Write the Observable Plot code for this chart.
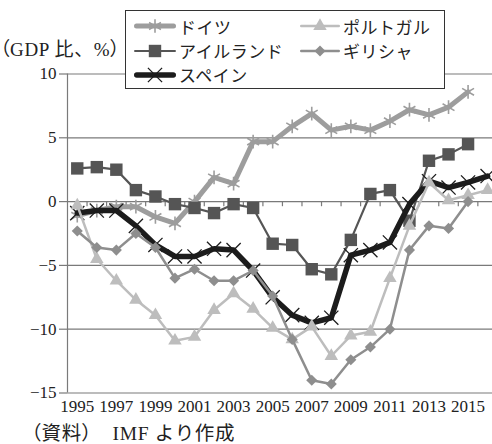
<!DOCTYPE html>
<html>
<head>
<meta charset="utf-8">
<script src="https://cdn.jsdelivr.net/npm/d3@7"></script>
<script src="https://cdn.jsdelivr.net/npm/@observablehq/plot@0.6"></script>
<style>
  body { margin: 0; background: #fff; }
  #wrap { position: relative; width: 492px; height: 444px; overflow: hidden; background: #fff; }
  #wrap svg.plot { position: absolute; left: 0; top: 0; }
  .txt { position: absolute; font-family: "Liberation Serif", "Noto Sans CJK JP", serif; font-size: 19px; color: #222; white-space: pre; line-height: 1; }
  .p { font-feature-settings: "palt"; }
  #legend { position: absolute; left: 125px; top: 10px; width: 318px; height: 77px; border: 1.3px solid #333; background: #fff; }
  .item { position: absolute; height: 20px; display: flex; align-items: center; }
  .item span { font-family: "Noto Sans CJK JP", sans-serif; font-size: 17px; letter-spacing: 0.5px; color: #222; margin-left: 3px; }
</style>
</head>
<body>
<div id="wrap"></div>
<script>
// ---- data (current account balance, % of GDP) ----
const years = [1995, 1996, 1997, 1998, 1999, 2000, 2001, 2002, 2003, 2004, 2005, 2006, 2007, 2008, 2009, 2010, 2011, 2012, 2013, 2014, 2015, 2016];
const germany  = [-1.1, -0.7, -0.4, -0.4, -1.2, -1.7, 0.0, 1.9, 1.4, 4.7, 4.7, 5.9, 6.9, 5.6, 5.9, 5.6, 6.3, 7.2, 6.8, 7.4, 8.6, null];
const portugal = [-0.3, -4.5, -6.2, -7.7, -8.9, -10.9, -10.6, -8.5, -7.2, -8.4, -9.9, -10.8, -9.8, -12.1, -10.5, -10.2, -6.0, -1.9, 1.5, 0.1, 0.5, 0.9];
const ireland  = [2.6, 2.7, 2.5, 0.9, 0.4, -0.2, -0.5, -0.9, -0.2, -0.5, -3.3, -3.4, -5.3, -5.7, -3.0, 0.6, 0.9, -1.5, 3.2, 3.7, 4.5, null];
const greece   = [-2.3, -3.6, -3.8, -2.5, -3.6, -6.0, -5.3, -6.2, -6.2, -5.4, -7.4, -10.8, -14.0, -14.3, -12.4, -11.4, -10.0, -3.8, -1.9, -2.1, 0.0, null];
const spain    = [-0.9, -0.7, -0.7, -1.9, -3.4, -4.3, -4.3, -3.7, -3.8, -5.4, -7.5, -8.9, -9.5, -9.1, -4.2, -3.8, -3.2, -0.2, 1.6, 1.1, 1.5, 2.0];
const seriesNames = ["ドイツ", "ポルトガル", "アイルランド", "ギリシャ", "スペイン"];
const yTicks = [-15, -10, -5, 0, 5, 10];
const xTickLabels = [1995, 1997, 1999, 2001, 2003, 2005, 2007, 2009, 2011, 2013, 2015];
const yLabelParts = ["（", "GDP 比、%", "）"];
const captionParts = ["（", "資料", "）", "　IMF より作成"];

// ---- styles ----
const styles = {
  "ドイツ":       {values: germany,  color: "#9d9d9d", width: 5,   symbol: "asterisk", r: 6.5, filled: false, sw: 1.6},
  "アイルランド": {values: ireland,  color: "#555555", width: 2.2, symbol: "square",   r: 7,   filled: true},
  "スペイン":     {values: spain,    color: "#1c1c1c", width: 5.5, symbol: "times",    r: 6.5, filled: false, sw: 1.3},
  "ポルトガル":   {values: portugal, color: "#bdbdbd", width: 2.5, symbol: "triangle", r: 5,   filled: true},
  "ギリシャ":     {values: greece,   color: "#8e8e8e", width: 2.5, symbol: "diamond2", r: 5,   filled: true}
};
const drawOrder = ["ドイツ", "アイルランド", "スペイン", "ポルトガル", "ギリシャ"];

const table = name => years.map((yr, i) => ({year: yr, value: styles[name].values[i]})).filter(d => d.value != null);

const marks = [
  Plot.ruleY(yTicks, {stroke: "#7a7a7a", strokeWidth: 1.2}),
  Plot.ruleX([years[0] - 0.5], {y1: yTicks[0], y2: yTicks[yTicks.length - 1], stroke: "#7a7a7a", strokeWidth: 1.2}),
  Plot.ruleX(years.slice(0, -1).map(y => y + 0.5), {y1: 0, y2: -0.4, stroke: "#7a7a7a", strokeWidth: 1.2}),
  Plot.axisY({ticks: yTicks, tickSize: 8, tickPadding: 3, fontSize: 17, stroke: "#7a7a7a", strokeWidth: 1.2, label: null}),
  Plot.axisX({ticks: xTickLabels, tickSize: 0, tickPadding: 7, fontSize: 17, tickFormat: d => String(d), label: null})
];
for (const name of drawOrder) {
  const s = styles[name];
  const data = table(name);
  marks.push(Plot.line(data, {x: "year", y: "value", stroke: s.color, strokeWidth: s.width, strokeLinejoin: "round", strokeLinecap: "round"}));
  marks.push(Plot.dot(data, s.filled
    ? {x: "year", y: "value", symbol: () => s.symbol, r: s.r, fill: s.color, stroke: "none"}
    : {x: "year", y: "value", symbol: () => s.symbol, r: s.r, fill: "none", stroke: s.color, strokeWidth: s.sw}));
}

const chart = Plot.plot({
  width: 492,
  height: 444,
  marginLeft: 67,
  marginRight: 0,
  marginTop: 73.5,
  marginBottom: 51.5,
  x: {type: "linear", domain: [years[0] - 0.5, 2016.25]},
  y: {domain: [yTicks[0], yTicks[yTicks.length - 1]]},
  style: {fontFamily: "Liberation Serif, serif", fontSize: "17px", color: "#222", background: "transparent", overflow: "visible"},
  marks
});
const wrap = document.getElementById("wrap");
wrap.appendChild(chart);

// title and caption (parentheses set proportionally, as in the print)
function addText(parts, paltIdx, left, top, extra) {
  const d = document.createElement("div");
  d.className = "txt";
  d.style.left = left + "px"; d.style.top = top + "px";
  Object.assign(d.style, extra || {});
  parts.forEach((p, i) => {
    const s = document.createElement("span");
    if (paltIdx.includes(i)) s.className = "p";
    s.textContent = p;
    d.appendChild(s);
  });
  wrap.appendChild(d);
}
addText(yLabelParts, [0, 2], 0, 40, {letterSpacing: "0.6px"});
addText(captionParts, [0, 2], 31, 424, {fontSize: "19.5px", letterSpacing: "0.7px"});

// legend
const legend = document.createElement("div");
legend.id = "legend";
wrap.appendChild(legend);
const positions = {
  "ドイツ": [8, 5], "ポルトガル": [174, 5],
  "アイルランド": [8, 29.5], "ギリシャ": [174, 29.5],
  "スペイン": [8, 53.5]
};
const symMap = {asterisk: d3.symbolAsterisk, square: d3.symbolSquare, times: d3.symbolTimes, triangle: d3.symbolTriangle, diamond2: d3.symbolDiamond2};
for (const name of seriesNames) {
  const s = styles[name];
  const [lx, ly] = positions[name];
  const item = document.createElement("div");
  item.className = "item";
  item.style.left = lx + "px"; item.style.top = ly + "px";
  const w = name === "ドイツ" || name === "スペイン" || name === "アイルランド" ? 42 : 40;
  const svg = d3.create("svg").attr("width", w).attr("height", 20);
  svg.append("line").attr("x1", s.width / 2).attr("x2", w - s.width / 2).attr("y1", 10).attr("y2", 10)
    .attr("stroke", s.color).attr("stroke-width", s.width).attr("stroke-linecap", "round");
  const path = d3.symbol(symMap[s.symbol], Math.PI * s.r * s.r)();
  svg.append("path").attr("d", path).attr("transform", `translate(${w / 2},10)`)
    .attr("fill", s.filled ? s.color : "none").attr("stroke", s.filled ? "none" : s.color).attr("stroke-width", s.sw || 0);
  item.appendChild(svg.node());
  const sp = document.createElement("span");
  sp.textContent = name;
  item.appendChild(sp);
  legend.appendChild(item);
}
</script>
</body>
</html>
